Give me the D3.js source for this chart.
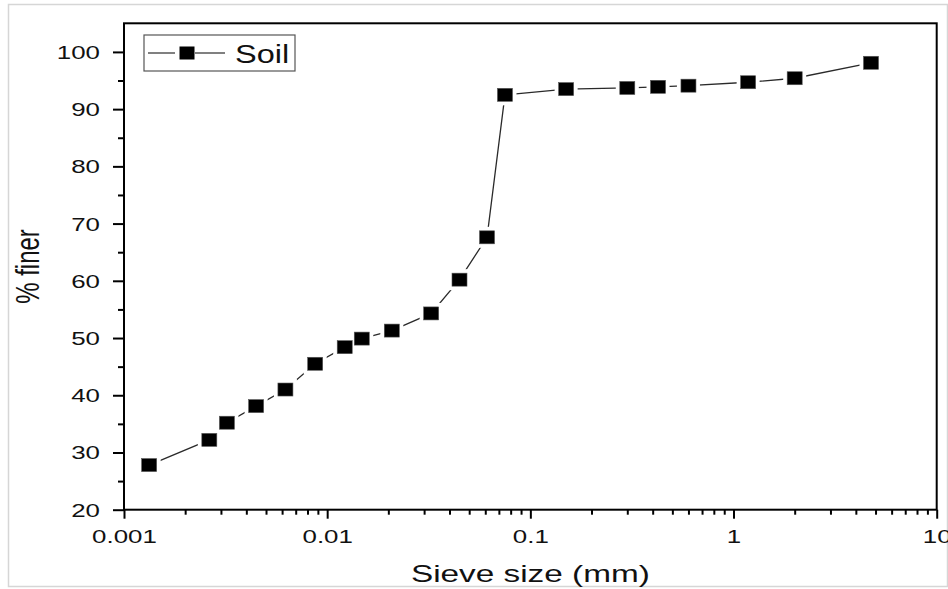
<!DOCTYPE html>
<html>
<head>
<meta charset="utf-8">
<script src="https://cdn.jsdelivr.net/npm/d3@7"></script>
<style>
	body { margin: 0; background: #fff; }
	svg text { font-family: "Liberation Sans", Arial, sans-serif; fill: #111; }
</style>
</head>
<body>
<div id="chart"></div>
<script>
// sieve + hydrometer readings
var sieve_size = [0.00133, 0.00263, 0.00321, 0.00447, 0.00623, 0.00873, 0.0122, 0.0148, 0.0208, 0.0325,
	0.0448, 0.0612, 0.075, 0.15, 0.3, 0.425, 0.6, 1.18, 2, 4.75];
var percent_finer = [27.8, 32.2, 35.2, 38.1, 41.0, 45.5, 48.4, 49.9, 51.3, 54.3,
	60.2, 67.6, 92.5, 93.5, 93.7, 93.9, 94.1, 94.7, 95.4, 98.1];
var x_major = [0.001, 0.01, 0.1, 1, 10];
var x_labels = ['0.001', '0.01', '0.1', '1', '10'];
var y_major = [20, 30, 40, 50, 60, 70, 80, 90, 100];
var y_minor = [25, 35, 45, 55, 65, 75, 85, 95];
var series_name = 'Soil';

var width = 948, height = 589;
var plot = { left: 124, right: 936.7, top: 23.3, bottom: 509.7 };
var stretch = 1.4; // the picture is wider than it is tall, text too

var svg = d3.select('#chart').append('svg')
	.attr('width', width)
	.attr('height', height);

// faint page border
svg.append('rect')
	.attr('x', 8.5).attr('y', 4.5)
	.attr('width', 939).attr('height', 582)
	.attr('fill', 'none')
	.attr('stroke', '#d6d6d6')
	.attr('stroke-width', 1.5);

var x = d3.scaleLog().domain([0.001, 10]).range([plot.left, plot.right]);
var y = d3.scaleLinear().domain([20, 105]).range([plot.bottom, plot.top]);

//minor x ticks 2..9 in each decade
var x_minor = [];
x_major.slice(0, -1).forEach(function(d){
	for (var k = 2; k < 10; k++) x_minor.push(d * k);
});

// frame
svg.append('rect')
	.attr('x', plot.left).attr('y', plot.top)
	.attr('width', plot.right - plot.left)
	.attr('height', plot.bottom - plot.top)
	.attr('fill', 'none')
	.attr('stroke', '#000')
	.attr('stroke-width', 2);

// x axis
var gx = svg.append('g').attr('transform', 'translate(0,' + plot.bottom + ')');
gx.append('g')
	.call(d3.axisBottom(x).tickValues(x_minor).tickSize(5).tickFormat(''));
var gx_major = gx.append('g')
	.call(d3.axisBottom(x).tickValues(x_major).tickSize(9)
		.tickFormat(function(d, i){ return x_labels[i]; }));
gx.selectAll('.domain').remove();
gx.selectAll('line').attr('stroke', '#000').attr('stroke-width', 2);
gx_major.selectAll('text')
	.attr('y', 33).attr('dy', 0)
	.attr('transform', 'scale(' + stretch + ',1)')
	.style('font-size', '18.5px');

// y axis
var gy = svg.append('g').attr('transform', 'translate(' + plot.left + ',0)');
gy.append('g')
	.call(d3.axisLeft(y).tickValues(y_minor).tickSize(6).tickFormat(''));
var gy_major = gy.append('g')
	.call(d3.axisLeft(y).tickValues(y_major).tickSize(11).tickFormat(d3.format('d')));
gy.selectAll('.domain').remove();
gy.selectAll('line').attr('stroke', '#000').attr('stroke-width', 2);
gy_major.selectAll('text')
	.attr('x', -24 / stretch).attr('dy', '0.35em')
	.attr('transform', 'scale(' + stretch + ',1)')
	.style('font-size', '18.5px');

// axis titles
svg.append('text')
	.attr('text-anchor', 'middle')
	.attr('transform', 'translate(' + ((plot.left + plot.right) / 2) + ',582) scale(1.45,1)')
	.style('font-size', '23px')
	.text('Sieve size (mm)');

svg.append('text')
	.attr('text-anchor', 'middle')
	.attr('transform', 'translate(39,' + ((plot.top + plot.bottom) / 2) + ') scale(' + stretch + ',1) rotate(-90)')
	.style('font-size', '24px')
	.text('% finer');

// the curve
var line = d3.line()
	.x(function(d){ return x(d[0]); })
	.y(function(d){ return y(d[1]); });
var points = d3.zip(sieve_size, percent_finer);

svg.append('path')
	.datum(points)
	.attr('d', line)
	.attr('fill', 'none')
	.attr('stroke', '#2a2a2a')
	.attr('stroke-width', 1.3);

var mw = 15, mh = 13, gap = 4;
//white halo so the line stops short of each square
svg.selectAll('.halo')
	.data(points).enter().append('rect')
	.attr('class', 'halo')
	.attr('x', function(d){ return x(d[0]) - mw / 2 - gap; })
	.attr('y', function(d){ return y(d[1]) - mh / 2 - gap; })
	.attr('width', mw + 2 * gap)
	.attr('height', mh + 2 * gap)
	.attr('fill', '#fff');

svg.selectAll('.marker')
	.data(points).enter().append('rect')
	.attr('class', 'marker')
	.attr('x', function(d){ return x(d[0]) - mw / 2; })
	.attr('y', function(d){ return y(d[1]) - mh / 2; })
	.attr('width', mw)
	.attr('height', mh)
	.attr('fill', '#000')
	.attr('stroke', '#555')
	.attr('stroke-width', 0.6);

// legend
var legend = svg.append('g').attr('transform', 'translate(144,35)');
legend.append('rect')
	.attr('width', 151).attr('height', 36)
	.attr('fill', '#fff')
	.attr('stroke', '#555')
	.attr('stroke-width', 1.2);
legend.append('line')
	.attr('x1', 4).attr('x2', 31).attr('y1', 18).attr('y2', 18)
	.attr('stroke', '#2a2a2a').attr('stroke-width', 1.2);
legend.append('line')
	.attr('x1', 51).attr('x2', 81).attr('y1', 18).attr('y2', 18)
	.attr('stroke', '#2a2a2a').attr('stroke-width', 1.2);
legend.append('rect')
	.attr('x', 43 - mw / 2).attr('y', 18 - mh / 2)
	.attr('width', mw).attr('height', mh)
	.attr('fill', '#000');
legend.append('text')
	.attr('transform', 'translate(91,28) scale(1.3,1)')
	.style('font-size', '25px')
	.text(series_name);
</script>
</body>
</html>
